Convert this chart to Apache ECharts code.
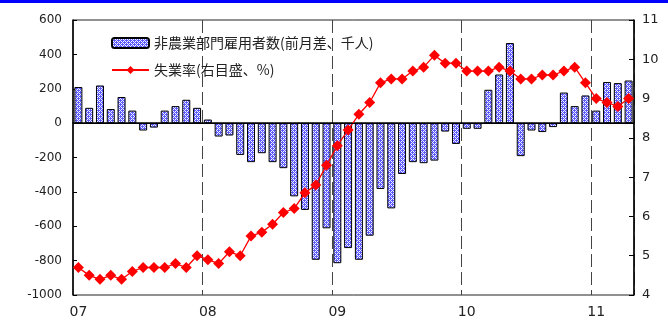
<!DOCTYPE html>
<html>
<head>
<meta charset="utf-8">
<script src="https://cdn.jsdelivr.net/npm/echarts@6/dist/echarts.min.js"></script>
<style>
  html, body { margin: 0; padding: 0; background: #fff; }
  #chart { width: 668px; height: 320px; }
</style>
</head>
<body>
<div id="chart"></div>
<script>
// Monthly categories, Jan 2007 – Apr 2011
const months = [
  '07/01','07/02','07/03','07/04','07/05','07/06','07/07','07/08','07/09','07/10','07/11','07/12',
  '08/01','08/02','08/03','08/04','08/05','08/06','08/07','08/08','08/09','08/10','08/11','08/12',
  '09/01','09/02','09/03','09/04','09/05','09/06','09/07','09/08','09/09','09/10','09/11','09/12',
  '10/01','10/02','10/03','10/04','10/05','10/06','10/07','10/08','10/09','10/10','10/11','10/12',
  '11/01','11/02','11/03','11/04'
];

// Nonfarm payroll employment, change from previous month (thousands)
const payrollChange = [
  210, 89, 219, 82, 152, 73, -43, -26, 73, 99, 136, 89,
  21, -78, -72, -185, -227, -175, -227, -262, -426, -505, -795, -612,
  -815, -727, -795, -655, -383, -496, -296, -227, -233, -218, -49, -121,
  -33, -33, 194, 283, 466, -192, -43, -52, -23, 178, 99, 161,
  73, 239, 233, 248
];

// Unemployment rate (%), right axis
const unemploymentRate = [
  4.7, 4.5, 4.4, 4.5, 4.4, 4.6, 4.7, 4.7, 4.7, 4.8, 4.7, 5.0,
  4.9, 4.8, 5.1, 5.0, 5.5, 5.6, 5.8, 6.1, 6.2, 6.6, 6.8, 7.3,
  7.8, 8.2, 8.6, 8.9, 9.4, 9.5, 9.5, 9.7, 9.8, 10.1, 9.9, 9.9,
  9.7, 9.7, 9.7, 9.8, 9.7, 9.5, 9.5, 9.6, 9.6, 9.7, 9.8, 9.4,
  9.0, 8.9, 8.8, 9.0
];

const seriesNames = ['非農業部門雇用者数(前月差、千人)', '失業率(右目盛、%)'];

// Light checkered blue fill for the payroll bars
function makePattern() {
  const c = document.createElement('canvas');
  c.width = 4; c.height = 4;
  const ctx = c.getContext('2d');
  ctx.fillStyle = '#5a5aff';
  ctx.fillRect(0, 0, 4, 4);
  ctx.fillStyle = '#ffffff';
  ctx.fillRect(1, 1, 1, 1);
  ctx.fillRect(3, 3, 1, 1);
  ctx.fillRect(1, 3, 1, 1);
  ctx.fillRect(3, 1, 1, 1);
  ctx.fillStyle = '#e0e0ff';
  ctx.fillRect(0, 2, 1, 1);
  ctx.fillRect(2, 0, 1, 1);
  return c;
}

const chart = echarts.init(document.getElementById('chart'), null, { renderer: 'canvas' });

const numFont = 'DejaVu Sans';
const cjkFont = '"Noto Sans CJK JP", "Noto Sans CJK SC", sans-serif';

chart.setOption({
  animation: false,
  backgroundColor: '#ffffff',
  graphic: [
    { type: 'rect', left: 0, top: 0, shape: { width: 668, height: 3 }, style: { fill: '#0000ff' }, silent: true }
  ],
  grid: {
    left: 73, right: 34, top: 20, height: 275,
    show: true, borderColor: '#222', borderWidth: 1
  },
  legend: {
    orient: 'vertical',
    left: 106, top: 31,
    itemWidth: 37, itemHeight: 10, itemGap: 13,
    textStyle: { fontFamily: cjkFont, fontSize: 14, color: '#222' },
    data: seriesNames
  },
  xAxis: {
    type: 'category',
    data: months,
    boundaryGap: true,
    axisLine: { show: true, lineStyle: { color: '#000', width: 1.5 } },
    axisTick: { show: false },
    axisLabel: {
      interval: (idx) => idx % 12 === 0,
      formatter: (v) => v.slice(0, 2),
      fontFamily: numFont, fontSize: 14, color: '#222', margin: 10
    },
    splitLine: {
      show: true,
      interval: (idx) => idx % 12 === 0 && idx > 0,
      lineStyle: { color: '#444', width: 1, type: [13, 5] }
    }
  },
  yAxis: [
    {
      type: 'value', min: -1000, max: 600, interval: 200,
      axisLine: { show: true, lineStyle: { color: '#000', width: 1.5 } },
      axisTick: { show: true, inside: true, length: 4, lineStyle: { color: '#000' } },
      axisLabel: { fontFamily: numFont, fontSize: 12, color: '#222', margin: 11, formatter: (v) => String(v) },
      splitLine: { show: false }
    },
    {
      type: 'value', min: 4, max: 11, interval: 1,
      position: 'right',
      axisLine: { show: true, lineStyle: { color: '#000', width: 1.5 } },
      axisTick: { show: true, inside: true, length: 5, lineStyle: { color: '#000' } },
      axisLabel: { fontFamily: numFont, fontSize: 13, color: '#222', margin: 8 },
      splitLine: { show: false }
    }
  ],
  series: [
    {
      name: seriesNames[0],
      type: 'bar',
      yAxisIndex: 0,
      data: payrollChange,
      barWidth: 8,
      itemStyle: {
        color: { image: makePattern(), repeat: 'repeat' },
        borderColor: '#000', borderWidth: 1
      },
      markLine: {
        silent: true, symbol: 'none', label: { show: false },
        lineStyle: { color: '#000', width: 1, type: 'solid' },
        data: [{ yAxis: 0 }]
      },
      z: 2
    },
    {
      name: seriesNames[1],
      type: 'line',
      yAxisIndex: 1,
      data: unemploymentRate,
      symbol: 'diamond',
      symbolSize: 11,
      showSymbol: true,
      showAllSymbol: true,
      lineStyle: { color: '#ff0000', width: 1.3 },
      itemStyle: { color: '#ff0000' },
      z: 3
    }
  ]
});
</script>
</body>
</html>
